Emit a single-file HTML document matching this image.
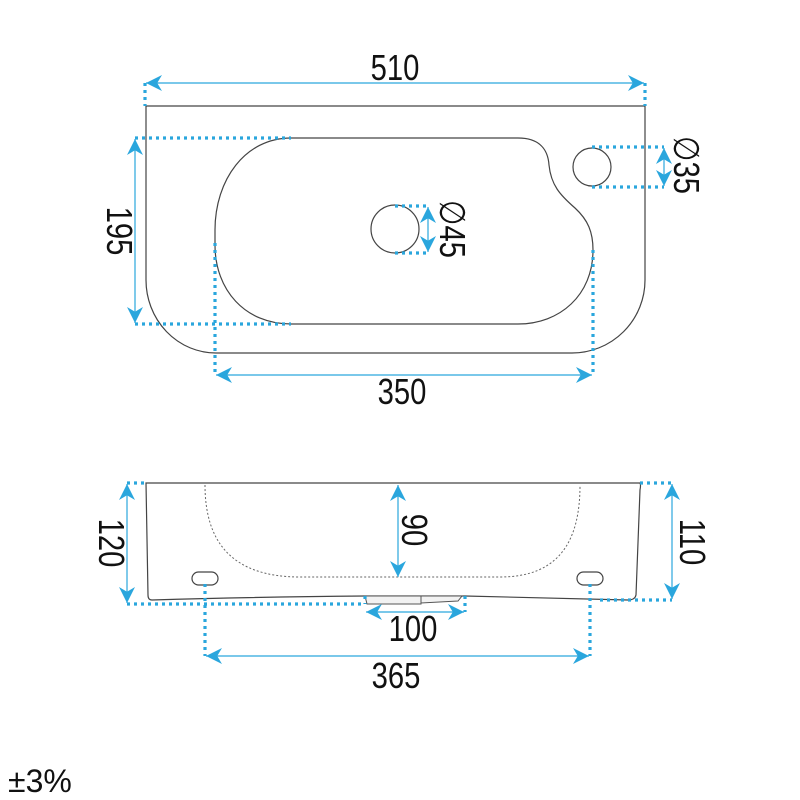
<!DOCTYPE html>
<html><head><meta charset="utf-8"><style>
html,body{margin:0;padding:0;background:#fff;}
svg{display:block;}
text{font-family:"Liberation Sans Narrow","Liberation Sans",sans-serif;font-size:34px;fill:#111;}
.o{fill:none;stroke:#444;stroke-width:1.2;}
.d{fill:none;stroke:#2aa6dd;stroke-width:3.2;stroke-dasharray:3,4;}
.l{fill:none;stroke:#2aa6dd;stroke-width:1.2;}
.a{fill:#2aa6dd;}
</style></head><body>
<svg width="800" height="800" viewBox="0 0 800 800" xmlns="http://www.w3.org/2000/svg">
<defs>
<marker id="ar" viewBox="0 0 10 10" refX="10" refY="5" markerWidth="20" markerHeight="16" markerUnits="userSpaceOnUse" orient="auto-start-reverse">
<path d="M0,0 L10,5 L0,10 L3,5 Z" class="a"/></marker>
</defs>
<path class="o" d="M146,106 H645 V280 A73,73 0 0 1 572,353 H216 A70,73 0 0 1 146,280 Z"/>
<path class="o" d="M291,138 H518 C540,138 548,150 549,165 C551,185 560,195 575,208 C588,220 593,232 593,250 C593,295 560,324 518,324 H291 C245,324 215,290 215,245 V230 C215,180 245,138 291,138 Z"/>
<circle class="o" cx="395" cy="229" r="24"/>
<circle class="o" cx="592" cy="167" r="19"/>
<path class="d" d="M145,83 V106 M645,83 V106"/>
<line class="l" x1="146" y1="83" x2="644" y2="83" marker-start="url(#ar)" marker-end="url(#ar)"/>
<text transform="translate(395,80) scale(0.86,1.05)" text-anchor="middle">510</text>
<path class="d" d="M135,138 H291 M135,324 H291"/>
<line class="l" x1="135" y1="139" x2="135" y2="323" marker-start="url(#ar)" marker-end="url(#ar)"/>
<text transform="translate(107,231) rotate(90) scale(0.86,1.05)" text-anchor="middle">195</text>
<path class="d" d="M395,206 H428 M395,253 H428"/>
<line class="l" x1="428" y1="207" x2="428" y2="252" marker-start="url(#ar)" marker-end="url(#ar)"/>
<text transform="translate(440,229) rotate(90) scale(0.86,1.05)" text-anchor="middle">∅45</text>
<path class="d" d="M592,147 H664 M592,187 H664"/>
<line class="l" x1="664" y1="148" x2="664" y2="186" marker-start="url(#ar)" marker-end="url(#ar)"/>
<text transform="translate(674,165) rotate(90) scale(0.86,1.05)" text-anchor="middle">∅35</text>
<path class="d" d="M215,243 V375 M593,250 V375"/>
<line class="l" x1="216" y1="375" x2="592" y2="375" marker-start="url(#ar)" marker-end="url(#ar)"/>
<text transform="translate(402,404) scale(0.86,1.05)" text-anchor="middle">350</text>
<path class="o" d="M146,483 H640 Q641,485 640,490 L636,595 Q635,600 628,600 Q540,598 465,596 L365,596 Q250,597 152,600 Q148,600 148,595 Z"/>
<path fill="#f2f2f2" stroke="#555" stroke-width="1" d="M365,596 H421 V604 H367 Z M421,596 H462 L458,601 L421,603 Z"/>
<path fill="none" stroke="#666" stroke-width="1" stroke-dasharray="2,2" d="M205,485 C205,540 230,577 300,577 H500 C560,577 580,540 580,485"/>
<rect class="o" x="192" y="572" width="26" height="13" rx="6.5"/>
<rect class="o" x="577" y="572" width="26" height="13" rx="6.5"/>
<path class="d" d="M127,483 H146 M127,604 H365"/>
<line class="l" x1="127" y1="484" x2="127" y2="603" marker-start="url(#ar)" marker-end="url(#ar)"/>
<text transform="translate(99,543) rotate(90) scale(0.86,1.05)" text-anchor="middle">120</text>
<path class="d" d="M640,483 H672 M600,600 H672"/>
<line class="l" x1="672" y1="484" x2="672" y2="599" marker-start="url(#ar)" marker-end="url(#ar)"/>
<text transform="translate(680,542) rotate(90) scale(0.86,1.05)" text-anchor="middle">110</text>
<line class="l" x1="398" y1="485" x2="398" y2="577" marker-start="url(#ar)" marker-end="url(#ar)"/>
<text transform="translate(402,530) rotate(90) scale(0.86,1.05)" text-anchor="middle">90</text>
<path class="d" d="M365,596 V604 M465,596 V612"/>
<line class="l" x1="366" y1="612" x2="464" y2="612" marker-start="url(#ar)" marker-end="url(#ar)"/>
<text transform="translate(413,641) scale(0.86,1.05)" text-anchor="middle">100</text>
<path class="d" d="M205,584 V656 M590,584 V656"/>
<line class="l" x1="206" y1="656" x2="589" y2="656" marker-start="url(#ar)" marker-end="url(#ar)"/>
<text transform="translate(396,688) scale(0.86,1.05)" text-anchor="middle">365</text>
<text x="8" y="792" style="font-family:'Liberation Sans',sans-serif;font-size:32px">±3%</text>
</svg>
</body></html>
